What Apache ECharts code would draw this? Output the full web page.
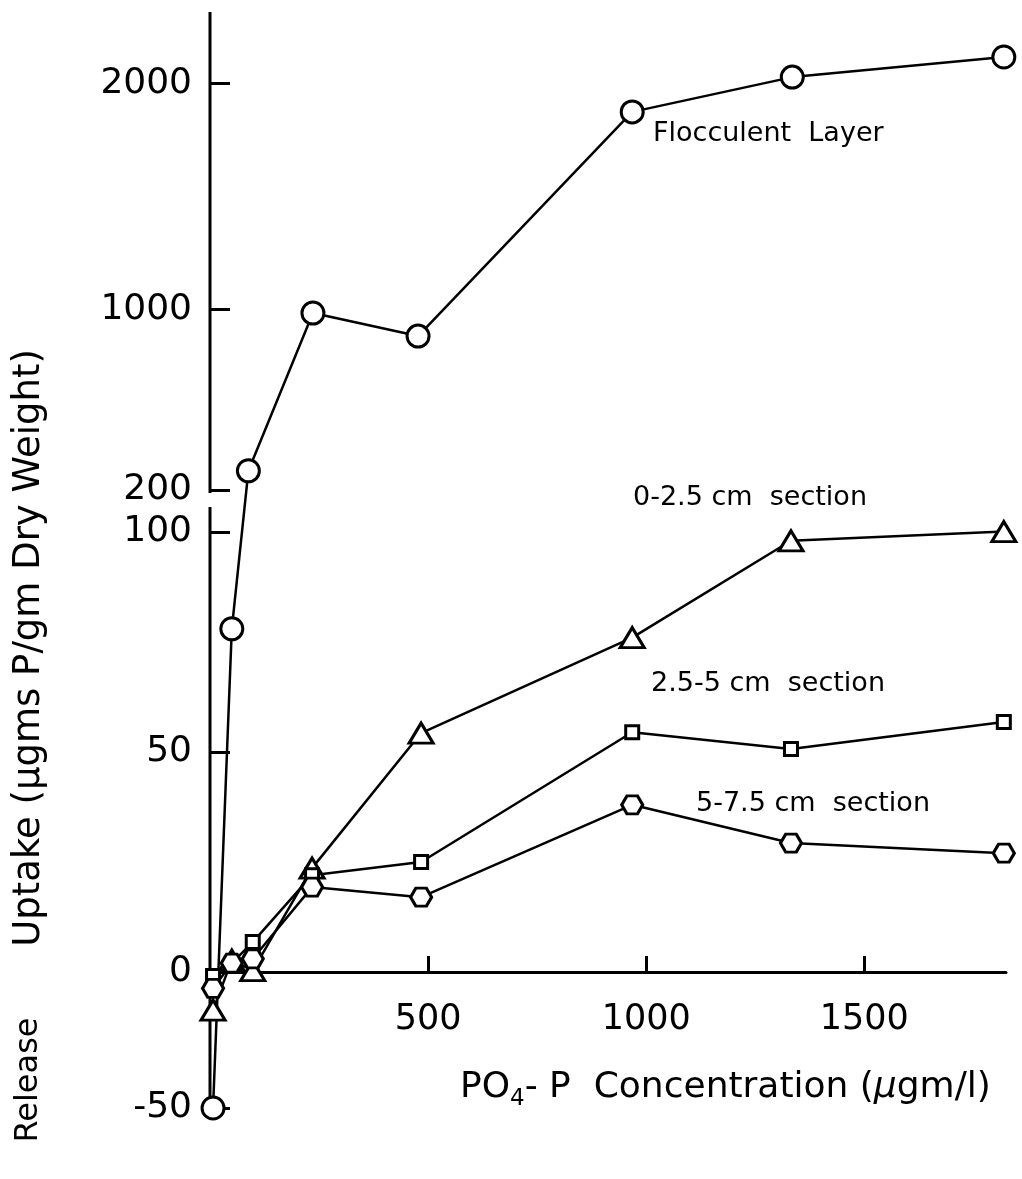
<!DOCTYPE html>
<html><head><meta charset="utf-8">
<script src="https://cdn.jsdelivr.net/npm/echarts@6/dist/echarts.min.js"></script>
<style>html,body{margin:0;padding:0;background:#fff}#c{width:1022px;height:1179px}</style>
</head><body><div id="c"></div>
<script>
// ---- data ----
const flocConc   = [7, 50, 88, 236, 477, 968, 1335, 1820];
const flocUptake = [-50, 78, 285, 983, 881, 1873, 2027, 2116];
const secConc     = [7, 50, 98, 234, 484, 968, 1332, 1820];
const sec0Uptake  = [-14, 2.7, 0.3, 23.6, 54.3, 76, 98, 101];
const sec25Uptake = [-1.5, 2, 6.8, 22, 25, 54.5, 50.7, 56.8];
const sec5Uptake  = [-6, 2, 3, 19.3, 17, 38, 29.3, 27];
const yTicks = [-50, 0, 50, 100, 200, 1000, 2000];
const xTicks = [500, 1000, 1500];

// broken y scale: piecewise mapping of uptake values onto one display axis
function toDisplay(v) {
  if (v <= 0) return v * 136 / 50;
  if (v <= 100) return v * 4.4;
  if (v < 200) return 440 + (v - 100) * 0.42;
  return 482 + (v - 200) * 0.226;
}
const FONT = '"DejaVu Sans", sans-serif';
const hexPath = 'path://M0,5 L3,0 L9,0 L12,5 L9,10 L3,10 Z';
const Y_MIN = -146, Y_MAX = 960;

function pts(xs, ys) { return xs.map((x, i) => [x, toDisplay(ys[i])]); }
function mkSeries(name, xs, ys, symbol, size) {
  return {
    name, type: 'line', data: pts(xs, ys), symbol, symbolSize: size,
    clip: false, z: 3,
    lineStyle: { color: '#000', width: 2.5 },
    itemStyle: { color: '#fff', borderColor: '#000', borderWidth: 3 }
  };
}
const tickDisp = yTicks.map(toDisplay);

const chart = echarts.init(document.getElementById('c'));
chart.setOption({
  backgroundColor: '#fff',
  animation: false,
  grid: { left: 210, right: 16, top: 12, bottom: 61 },
  xAxis: {
    type: 'value', min: 0, max: 1825, interval: 500, position: 'bottom',
    offset: Y_MIN,  // move the axis up onto the zero line
    axisLine: { onZero: false, lineStyle: { color: '#000', width: 3 } },
    axisTick: { inside: true, length: 16, lineStyle: { color: '#000', width: 3 }, customValues: xTicks },
    axisLabel: { color: '#000', fontSize: 35, fontFamily: FONT, margin: 30,
      customValues: xTicks, formatter: v => String(v) },
    splitLine: { show: false }
  },
  yAxis: {
    type: 'value', min: Y_MIN, max: Y_MAX,
    axisLine: { show: false },
    axisTick: { inside: true, length: 20, lineStyle: { color: '#000', width: 3 }, customValues: tickDisp },
    axisLabel: { color: '#000', fontSize: 36, fontFamily: FONT, margin: 18, customValues: tickDisp,
      formatter: function (val) {
        for (let i = 0; i < yTicks.length; i++) if (Math.abs(tickDisp[i] - val) < 0.5) return String(yTicks[i]);
        return '';
      } },
    splitLine: { show: false }
  },
  series: [
    { type: 'line', data: [[0, Y_MIN], [0, toDisplay(100) + 25]], symbol: 'none', clip: false, silent: true,
      lineStyle: { color: '#000', width: 3 }, z: 1 },
    { type: 'line', data: [[0, toDisplay(200) - 3], [0, Y_MAX]], symbol: 'none', clip: false, silent: true,
      lineStyle: { color: '#000', width: 3 }, z: 1 },
    mkSeries('Flocculent Layer', flocConc, flocUptake, 'circle', 22),
    mkSeries('0-2.5 cm section', secConc, sec0Uptake, 'triangle', [24, 20]),
    mkSeries('2.5-5 cm section', secConc, sec25Uptake, 'rect', 13),
    mkSeries('5-7.5 cm section', secConc, sec5Uptake, hexPath, [21, 18])
  ],
  graphic: [
    { type: 'text', left: 653, top: 120, style: { text: 'Flocculent  Layer', font: '27px ' + FONT, fill: '#000' } },
    { type: 'text', left: 633, top: 484, style: { text: '0-2.5 cm  section', font: '27px ' + FONT, fill: '#000' } },
    { type: 'text', left: 651, top: 670, style: { text: '2.5-5 cm  section', font: '27px ' + FONT, fill: '#000' } },
    { type: 'text', left: 696, top: 790, style: { text: '5-7.5 cm  section', font: '27px ' + FONT, fill: '#000' } },
    { type: 'text', x: 29, y: 648, rotation: Math.PI / 2,
      style: { text: 'Uptake (µgms P/gm Dry Weight)', font: '37px ' + FONT, fill: '#000', align: 'center', verticalAlign: 'middle' } },
    { type: 'text', x: 29, y: 1080, rotation: Math.PI / 2,
      style: { text: 'Release', font: '32px ' + FONT, fill: '#000', align: 'center', verticalAlign: 'middle' } },
    { type: 'text', left: 460, top: 1070,
      style: { text: '{a|PO}{s|4}{a|- P  Concentration (}{m|µ}{a|gm/l)}', fill: '#000',
        rich: {
          a: { font: '36px ' + FONT, lineHeight: 46, verticalAlign: 'middle' },
          m: { font: 'italic 36px ' + FONT, lineHeight: 46, verticalAlign: 'middle' },
          s: { font: '23px ' + FONT, lineHeight: 25, verticalAlign: 'bottom' }
        } } }
  ]
});
</script>
</body></html>
